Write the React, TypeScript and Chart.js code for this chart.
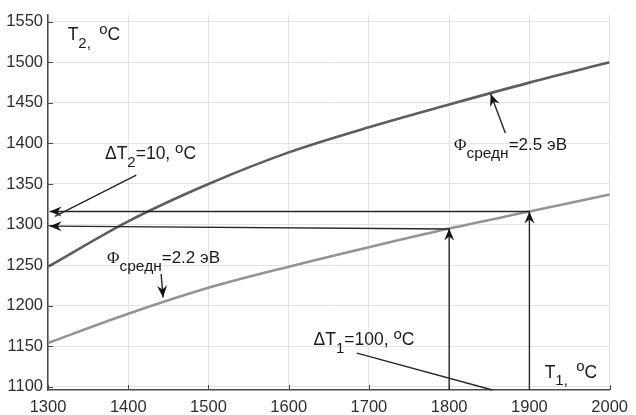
import React, { useEffect, useRef } from 'react';
import { Chart, registerables } from 'chart.js';

Chart.register(...registerables);

// T1 (°C) sample points and the two T2(T1) curves
const t1Values = [1300, 1400, 1500, 1600, 1700, 1800, 1900, 2000];
const t2Phi25 = [1248, 1304, 1350, 1389, 1420, 1448, 1475, 1500];
const t2Phi22 = [1154, 1190, 1222, 1248, 1272, 1295, 1316, 1337];

const xTicks = [1300, 1400, 1500, 1600, 1700, 1800, 1900, 2000];
const yTicks = [1100, 1150, 1200, 1250, 1300, 1350, 1400, 1450, 1500, 1550];
const xRange = [1300, 2000];
const yRange = [1096, 1558.5];

// Construction lines in data units: x0, y0, x1, y1, arrowhead at the end
const arrowLines: [number, number, number, number, boolean][] = [
  [1900, 1316, 1302, 1316, true],
  [1800, 1294.5, 1302, 1298, true],
  [1800, 1096, 1800, 1295, true],
  [1900, 1096, 1900, 1316, true],
  [1410, 1361, 1308.6, 1310, false],
  [1441, 1239, 1443.4, 1210, true],
  [1870, 1413, 1851.7, 1461, true],
  [1685, 1141.5, 1854, 1096, false],
];

type Part = [string, ('n' | 'sub' | 'sup')?, number?, string?];

// Text annotations: anchor (data units, left / baseline) and rich-text parts
const noteAnchors: [number, number][] = [
  [1324.5, 1527],
  [1371, 1380.5],
  [1373.6, 1252.4],
  [1806, 1391.5],
  [1631, 1151],
  [1919, 1111],
];
const noteParts: Part[][] = [
  [['T'], ['2,', 'sub'], ['  ', 'sub'], ['o', 'sup'], ['C']],
  [['\u0394T'], ['2', 'sub'], ['=10, '], ['o', 'sup'], ['C']],
  [['\u03A6', 'n', 17, 'Liberation Serif'], ['\u0441\u0440\u0435\u0434\u043D', 'sub', 15.5], ['=2.2 \u044D\u0412', 'n', 17]],
  [['\u03A6', 'n', 17, 'Liberation Serif'], ['\u0441\u0440\u0435\u0434\u043D', 'sub', 15.5], ['=2.5 \u044D\u0412', 'n', 17]],
  [['\u0394T'], ['1', 'sub'], ['=100, '], ['o', 'sup'], ['C']],
  [['T'], ['1,', 'sub'], ['  ', 'sub'], ['o', 'sup'], ['C']],
];

const SANS = '"Liberation Sans", Arial, sans-serif';

function drawRich(ctx: CanvasRenderingContext2D, x: number, y: number, parts: Part[]) {
  let cx = x;
  for (const [text, kind = 'n', size, family] of parts) {
    const fs = size ?? (kind === 'n' ? 17.5 : 15);
    const dy = kind === 'sub' ? 7.5 : kind === 'sup' ? -6.5 : 0;
    ctx.font = `${fs}px ${family ? `"${family}", serif` : SANS}`;
    ctx.fillText(text, cx, y + dy);
    cx += ctx.measureText(text).width;
  }
}

function drawHead(ctx: CanvasRenderingContext2D, x0: number, y0: number, x1: number, y1: number) {
  const ang = Math.atan2(y1 - y0, x1 - x0);
  const len = 12;
  const half = 5;
  const notch = 8;
  const ca = Math.cos(ang);
  const sa = Math.sin(ang);
  const pt = (a: number, b: number) => [x1 - a * ca + b * -sa, y1 - a * sa + b * ca];
  const p1 = pt(len, half);
  const p2 = pt(notch, 0);
  const p3 = pt(len, -half);
  ctx.beginPath();
  ctx.moveTo(x1, y1);
  ctx.lineTo(p1[0], p1[1]);
  ctx.lineTo(p2[0], p2[1]);
  ctx.lineTo(p3[0], p3[1]);
  ctx.closePath();
  ctx.fill();
}

const overlayPlugin = {
  id: 'overlay',
  afterDatasetsDraw(chart: Chart) {
    const ctx = chart.ctx;
    const xs = chart.scales.x;
    const ys = chart.scales.y;
    const area = chart.chartArea;
    ctx.save();

    // inward tick marks
    ctx.strokeStyle = '#4a4a4a';
    ctx.lineWidth = 1;
    for (const v of yTicks) {
      const py = Math.round(ys.getPixelForValue(v)) + 0.5;
      ctx.beginPath();
      ctx.moveTo(area.left, py);
      ctx.lineTo(area.left + 5, py);
      ctx.stroke();
    }
    for (const v of xTicks) {
      const px = Math.round(xs.getPixelForValue(v)) + 0.5;
      ctx.beginPath();
      ctx.moveTo(px, area.bottom);
      ctx.lineTo(px, area.bottom - 5);
      ctx.stroke();
    }

    // construction arrows
    ctx.strokeStyle = '#262626';
    ctx.fillStyle = '#141414';
    ctx.lineWidth = 1.4;
    for (const [a, b, c, d, head] of arrowLines) {
      const x0 = xs.getPixelForValue(a);
      const y0 = ys.getPixelForValue(b);
      const x1 = xs.getPixelForValue(c);
      const y1 = ys.getPixelForValue(d);
      ctx.beginPath();
      ctx.moveTo(x0, y0);
      ctx.lineTo(x1, y1);
      ctx.stroke();
      if (head) drawHead(ctx, x0, y0, x1, y1);
    }

    // text notes
    ctx.fillStyle = '#1a1a1a';
    ctx.textBaseline = 'alphabetic';
    ctx.textAlign = 'left';
    noteAnchors.forEach(([vx, vy], i) => {
      drawRich(ctx, xs.getPixelForValue(vx), ys.getPixelForValue(vy), noteParts[i]);
    });
    ctx.restore();
  },
};

export default function App() {
  const ref = useRef<HTMLCanvasElement | null>(null);

  useEffect(() => {
    if (!ref.current) return;
    const chart = new Chart(ref.current, {
      type: 'line',
      data: {
        datasets: [
          {
            label: '\u03A6 = 2.5 \u044D\u0412',
            data: t1Values.map((x, i) => ({ x, y: t2Phi25[i] })),
            borderColor: '#5e5e5e',
            borderWidth: 2.6,
            pointRadius: 0,
            cubicInterpolationMode: 'monotone',
          },
          {
            label: '\u03A6 = 2.2 \u044D\u0412',
            data: t1Values.map((x, i) => ({ x, y: t2Phi22[i] })),
            borderColor: '#949494',
            borderWidth: 2.6,
            pointRadius: 0,
            cubicInterpolationMode: 'monotone',
          },
        ],
      },
      options: {
        animation: false,
        responsive: false,
        devicePixelRatio: 1,
        layout: { padding: { top: 11, right: 17, left: 0, bottom: 0 } },
        plugins: { legend: { display: false }, tooltip: { enabled: false } },
        scales: {
          x: {
            type: 'linear',
            min: xRange[0],
            max: xRange[1],
            afterBuildTicks: (s: any) => {
              s.ticks = xTicks.map((value) => ({ value }));
            },
            afterFit: (s: any) => {
              s.height = 25;
            },
            ticks: {
              padding: 8,
              color: '#2e2e2e',
              font: { family: SANS, size: 16.5 },
              maxRotation: 0,
              autoSkip: false,
              callback: (v: any) => String(v),
            },
            grid: { color: '#e4e4e4', lineWidth: 1, drawTicks: false },
            border: { display: true, color: '#4a4a4a', width: 1.5 },
          },
          y: {
            type: 'linear',
            min: yRange[0],
            max: yRange[1],
            afterBuildTicks: (s: any) => {
              s.ticks = yTicks.map((value) => ({ value }));
            },
            afterFit: (s: any) => {
              s.width = 48;
            },
            ticks: {
              padding: 5,
              color: '#2e2e2e',
              font: { family: SANS, size: 16.5 },
              autoSkip: false,
              callback: (v: any) => String(v),
            },
            grid: { color: '#e4e4e4', lineWidth: 1, drawTicks: false },
            border: { display: true, color: '#4a4a4a', width: 1.5 },
          },
        },
      },
      plugins: [overlayPlugin],
    });
    return () => chart.destroy();
  }, []);

  return (
    <div style={{ position: 'fixed', left: 0, top: 0, width: 636, height: 415, background: '#ffffff' }}>
      <canvas ref={ref} width={636} height={415} style={{ display: 'block' }} />
    </div>
  );
}
